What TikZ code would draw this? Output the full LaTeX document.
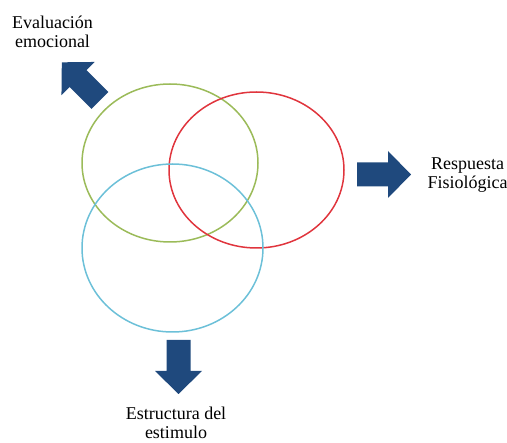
\documentclass[tikz,border=0pt]{standalone}
\usepackage{fontspec}
\setmainfont{Liberation Serif}
\newfontfamily\labelfont{Liberation Serif}
\definecolor{ringgreen}{HTML}{9BBB59}
\definecolor{ringred}{HTML}{E0353D}
\definecolor{ringblue}{HTML}{6CC0D8}
\definecolor{arrowblue}{HTML}{1F497D}
\tikzset{
  ring/.style={line width=1.5pt},
  tag/.style={align=center, inner sep=0pt,
    font=\labelfont\fontsize{18}{19.5}\selectfont},
  blockarrow/.pic={
    \fill[arrowblue] (0,-12) -- (31,-12) -- (31,-23.5) -- (54,0)
      -- (31,23.5) -- (31,12) -- (0,12) -- cycle;
  }
}
\begin{document}
\begin{tikzpicture}[x=1pt, y=-1pt]
  \useasboundingbox (0,0) rectangle (507,443);

  % three overlapping rings
  \draw[ring, ringgreen] (170,163) ellipse [x radius=88, y radius=79];
  \draw[ring, ringred]   (256.5,170) ellipse [x radius=87.5, y radius=78];
  \draw[ring, ringblue]  (172.5,248) ellipse [x radius=90.5, y radius=84];

  % block arrows pointing to the labels
  \pic[rotate=135] at (100,100.5) {blockarrow};
  \pic at (357,174.5) {blockarrow};
  \pic[rotate=-90] at (178.5,340) {blockarrow};

  % labels
  \node[tag] (eval) at (52.5,32) {Evaluación\\emocional};
  \node[tag] (resp) at (467.5,175) {Respuesta\\Fisiológica};
  \node[tag] (estr) at (176,423) {Estructura del\\estimulo};
\end{tikzpicture}
\end{document}
